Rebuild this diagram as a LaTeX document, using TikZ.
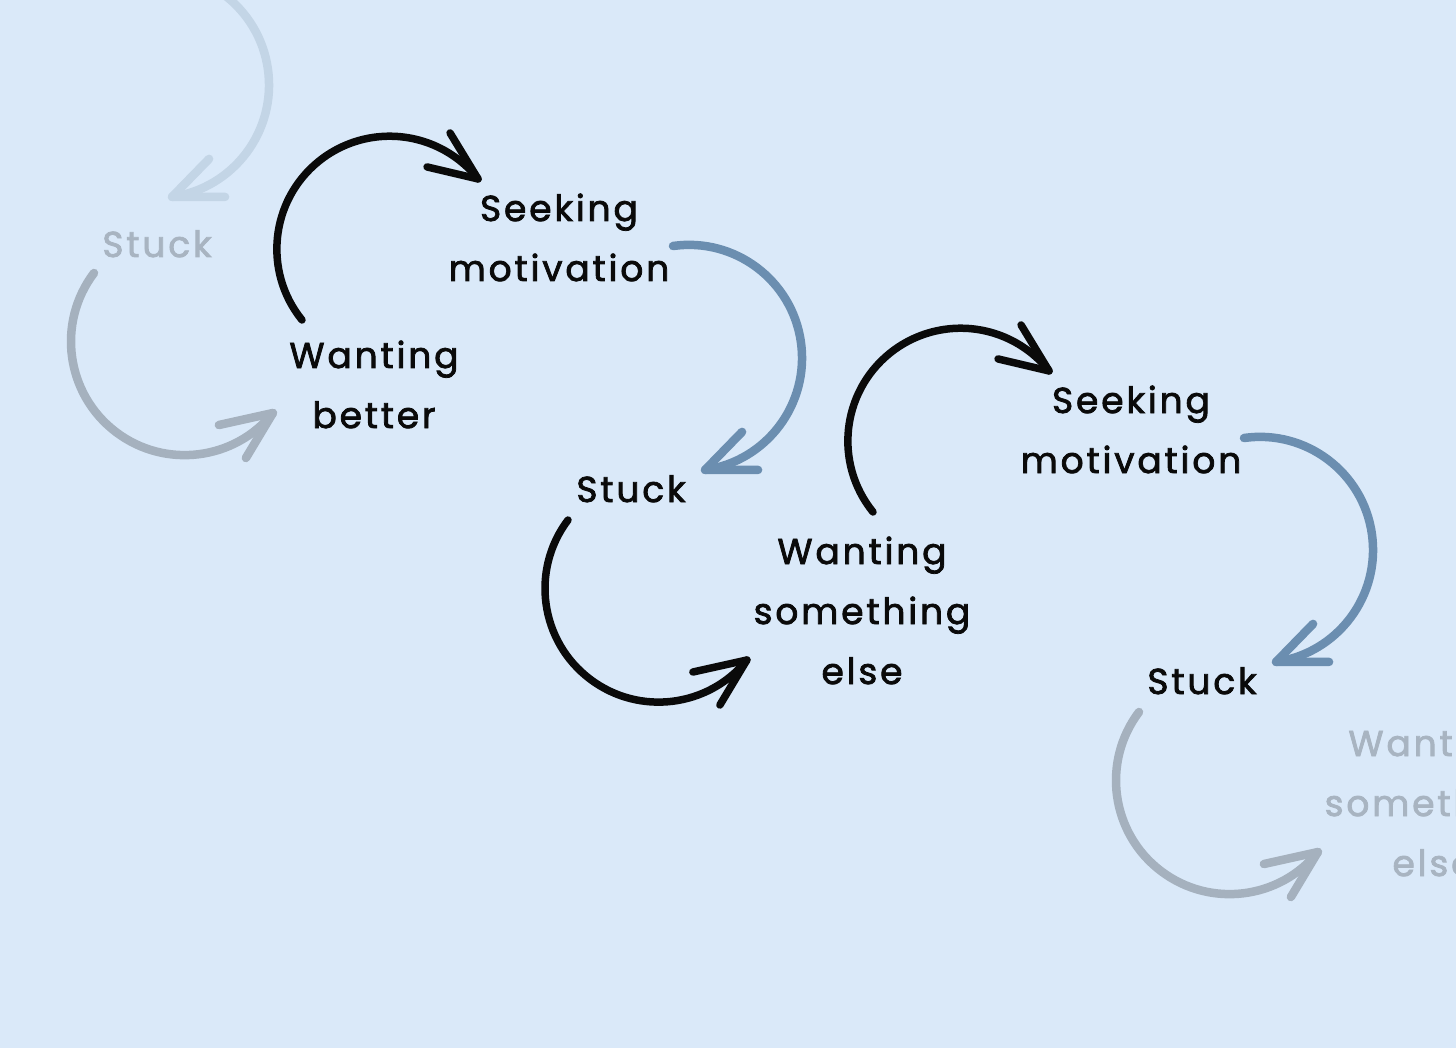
\documentclass[tikz,border=0pt]{standalone}
\usepackage{fontspec}
\setmainfont{Poppins}[LetterSpace=8, FakeBold=2.2]
\definecolor{bg}{HTML}{DAE9F9}
\definecolor{ink}{HTML}{0A0A0A}
\definecolor{steel}{HTML}{6B8EB0}
\definecolor{fadegray}{HTML}{A5B1BE}
\definecolor{paleblue}{HTML}{C3D5E6}
\definecolor{fadetext}{HTML}{A8B4C1}
\begin{document}
\begin{tikzpicture}[x=1pt,y=-1pt,
  lbl/.style={font=\fontsize{36}{60}\selectfont, align=center, anchor=base, inner sep=0pt},
  arr/.style={line width=7.5pt, line cap=round, line join=round},
  carr/.style={line width=8.5pt, line cap=round, line join=round},
  ]
\fill[bg] (0,0) rectangle (1456,1048);
\useasboundingbox (0,0) rectangle (1456,1048);
\clip (0,0) rectangle (1456,1048);

% labels (base anchor = baseline of the last line)
\node[lbl, text=fadetext] (stuck0) at (157,257) {Stuck};
\node[lbl, text=ink] (want1) at (374,428) {Wanting\\better};
\node[lbl, text=ink] (seek1) at (559,281) {Seeking\\motivation};
\node[lbl, text=ink] (stuck1) at (631,502) {Stuck};
\node[lbl, text=ink] (want2) at (862,684) {Wanting\\something\\else};
\node[lbl, text=ink] (seek2) at (1131,473) {Seeking\\motivation};
\node[lbl, text=ink] (stuck2) at (1202,694) {Stuck};
\node[lbl, text=fadetext] (want3) at (1433,876) {Wanting\\something\\else};

% arrow start points
\coordinate (b0s) at (140,-27);
\coordinate (c0s) at (94,273);
\coordinate (a1s) at (302,320);
\coordinate (b1s) at (673,246);
\coordinate (c1s) at (568,520);
\coordinate (a2s) at (873,512);
\coordinate (b2s) at (1244,438);
\coordinate (c2s) at (1139,712);

% faded top arrow into faded Stuck
\draw[carr, paleblue] (b0s) arc[start angle=-98.1, end angle=81.8, radius=113.1] coordinate (b0t);
\draw[carr, paleblue] (b0t) -- ++(53,0) (b0t) -- ++(37,-38);
% faded Stuck -> Wanting better
\draw[carr, fadegray] (c0s) arc[start angle=217.1, end angle=39, radius=113.6] coordinate (c0t);
\draw[carr, fadegray] (c0t) -- ++(-54,12) (c0t) -- ++(-27,45);
% Wanting better -> Seeking motivation
\draw[arr, ink] (a1s) arc[start angle=141, end angle=321.6, radius=112.8] coordinate (a1t);
\draw[arr, ink] (a1t) -- ++(-28,-46) (a1t) -- ++(-51,-12);
% Seeking motivation -> Stuck
\draw[carr, steel] (b1s) arc[start angle=-98.1, end angle=81.8, radius=113.1] coordinate (b1t);
\draw[carr, steel] (b1t) -- ++(53,0) (b1t) -- ++(37,-38);
% Stuck -> Wanting something else
\draw[arr, ink] (c1s) arc[start angle=217.1, end angle=39, radius=113.6] coordinate (c1t);
\draw[arr, ink] (c1t) -- ++(-54,12) (c1t) -- ++(-27,45);
% Wanting something else -> Seeking motivation
\draw[arr, ink] (a2s) arc[start angle=141, end angle=321.6, radius=112.8] coordinate (a2t);
\draw[arr, ink] (a2t) -- ++(-28,-46) (a2t) -- ++(-51,-12);
% Seeking motivation -> Stuck
\draw[carr, steel] (b2s) arc[start angle=-98.1, end angle=81.8, radius=113.1] coordinate (b2t);
\draw[carr, steel] (b2t) -- ++(53,0) (b2t) -- ++(37,-38);
% Stuck -> faded Wanting something else
\draw[carr, fadegray] (c2s) arc[start angle=217.1, end angle=39, radius=113.6] coordinate (c2t);
\draw[carr, fadegray] (c2t) -- ++(-54,12) (c2t) -- ++(-27,45);
\end{tikzpicture}
\end{document}
